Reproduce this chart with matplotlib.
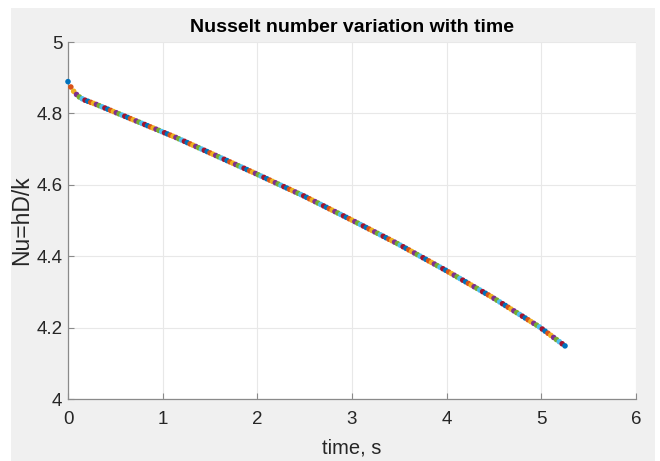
import numpy as np
import matplotlib
matplotlib.use("Agg")
import matplotlib.pyplot as plt
from matplotlib.patches import Rectangle

plt.rcParams['font.family'] = ['Liberation Sans', 'DejaVu Sans']

# Nusselt number (one value per plotted marker)
nusselt = [
    4.889, 4.874, 4.862, 4.853, 4.846, 4.841, 4.837, 4.834, 4.831, 4.828,
    4.825, 4.8217, 4.8184, 4.8151, 4.8118, 4.8085, 4.8052, 4.8019, 4.7986, 4.7953,
    4.7920, 4.7887, 4.7854, 4.7821, 4.7788, 4.7755, 4.7722, 4.7689, 4.7656, 4.7623,
    4.7590, 4.7557, 4.7524, 4.7491, 4.7458, 4.7425, 4.7392, 4.7359, 4.7326, 4.7290,
    4.7254, 4.7218, 4.7182, 4.7146, 4.7110, 4.7074, 4.7038, 4.7002, 4.6966, 4.6930,
    4.6894, 4.6858, 4.6822, 4.6786, 4.6750, 4.6714, 4.6678, 4.6642, 4.6606, 4.6570,
    4.6534, 4.6498, 4.6462, 4.6426, 4.6390, 4.6354, 4.6318, 4.6281, 4.6244, 4.6207,
    4.6170, 4.6133, 4.6096, 4.6059, 4.6022, 4.5985, 4.5948, 4.5911, 4.5874, 4.5837,
    4.5800, 4.5763, 4.5726, 4.5689, 4.5649, 4.5609, 4.5569, 4.5529, 4.5489, 4.5449,
    4.5409, 4.5369, 4.5329, 4.5289, 4.5249, 4.5209, 4.5169, 4.5129, 4.5089, 4.5049,
    4.5009, 4.4968, 4.4927, 4.4886, 4.4845, 4.4804, 4.4763, 4.4722, 4.4681, 4.4640,
    4.4599, 4.4558, 4.4517, 4.4476, 4.4435, 4.4394, 4.4353, 4.4309, 4.4265, 4.4221,
    4.4177, 4.4133, 4.4089, 4.4045, 4.4001, 4.3957, 4.3913, 4.3869, 4.3825, 4.3781,
    4.3737, 4.3693, 4.3649, 4.3605, 4.3559, 4.3513, 4.3467, 4.3421, 4.3375, 4.3329,
    4.3283, 4.3237, 4.3191, 4.3145, 4.3099, 4.3053, 4.3007, 4.2961, 4.2915, 4.2869,
    4.2819, 4.2769, 4.2719, 4.2669, 4.2619, 4.2569, 4.2519, 4.2469, 4.2419, 4.2369,
    4.2319, 4.2269, 4.2219, 4.2169, 4.2119, 4.2069, 4.2019, 4.1960, 4.1901, 4.1842,
    4.1783, 4.1724, 4.1665, 4.1606, 4.1547, 4.1488,
]
t_end = 5.25
time_s = np.linspace(0.0, t_end, len(nusselt))

x_ticks = [0, 1, 2, 3, 4, 5, 6]
y_ticks = [4, 4.2, 4.4, 4.6, 4.8, 5]
x_ticklabels = ['0', '1', '2', '3', '4', '5', '6']
y_ticklabels = ['4', '4.2', '4.4', '4.6', '4.8', '5']

title_text = 'Nusselt number variation with time'
xlabel_text = 'time, s'
ylabel_text = 'Nu=hD/k'

matlab_colors = ['#0072BD', '#D95319', '#EDB120', '#7E2F8E', '#77AC30', '#4DBEEE', '#A2142F']

W, H = 660, 461
fig = plt.figure(figsize=(W / 100, H / 100), dpi=100)
fig.patch.set_facecolor('white')
fig.patches.append(Rectangle((11 / W, 0), (655 - 11) / W, (461 - 8) / H,
                             transform=fig.transFigure, facecolor='#F0F0F0',
                             edgecolor='none', zorder=-10))

left, right, top, bottom = 68, 636, 42, 399
ax = fig.add_axes([left / W, 1 - bottom / H, (right - left) / W, (bottom - top) / H])
ax.set_facecolor('white')

colors = [matlab_colors[i % len(matlab_colors)] for i in range(len(nusselt))]
ax.scatter(time_s, nusselt, s=16, c=colors, edgecolors='none', zorder=3, clip_on=False)

ax.set_xlim(0, 6)
ax.set_ylim(4, 5)
ax.set_xticks(x_ticks)
ax.set_xticklabels(x_ticklabels)
ax.set_yticks(y_ticks)
ax.set_yticklabels(y_ticklabels)

ax.grid(True, color='#E8E8E8', linewidth=0.8, zorder=0)
ax.set_axisbelow(True)

axis_col = '#8a8a8a'
for side in ['top', 'right']:
    ax.spines[side].set_visible(False)
for side in ['left', 'bottom']:
    ax.spines[side].set_color(axis_col)
    ax.spines[side].set_linewidth(0.9)

ax.tick_params(axis='both', direction='in', length=4, width=0.8, color=axis_col,
               labelcolor='#262626', labelsize=13.5)
ax.tick_params(axis='x', pad=9)
ax.tick_params(axis='y', pad=4)

ax.set_title(title_text, fontsize=14, fontweight='bold', color='black', pad=7)
ax.set_xlabel(xlabel_text, fontsize=14.5, color='#262626')
ax.set_ylabel(ylabel_text, fontsize=16.5, color='#262626')
ax.xaxis.set_label_coords(0.5, -0.112)
ax.yaxis.set_label_coords(-0.062, 0.5)

fig.savefig('out.png', dpi=100, facecolor=fig.get_facecolor())
